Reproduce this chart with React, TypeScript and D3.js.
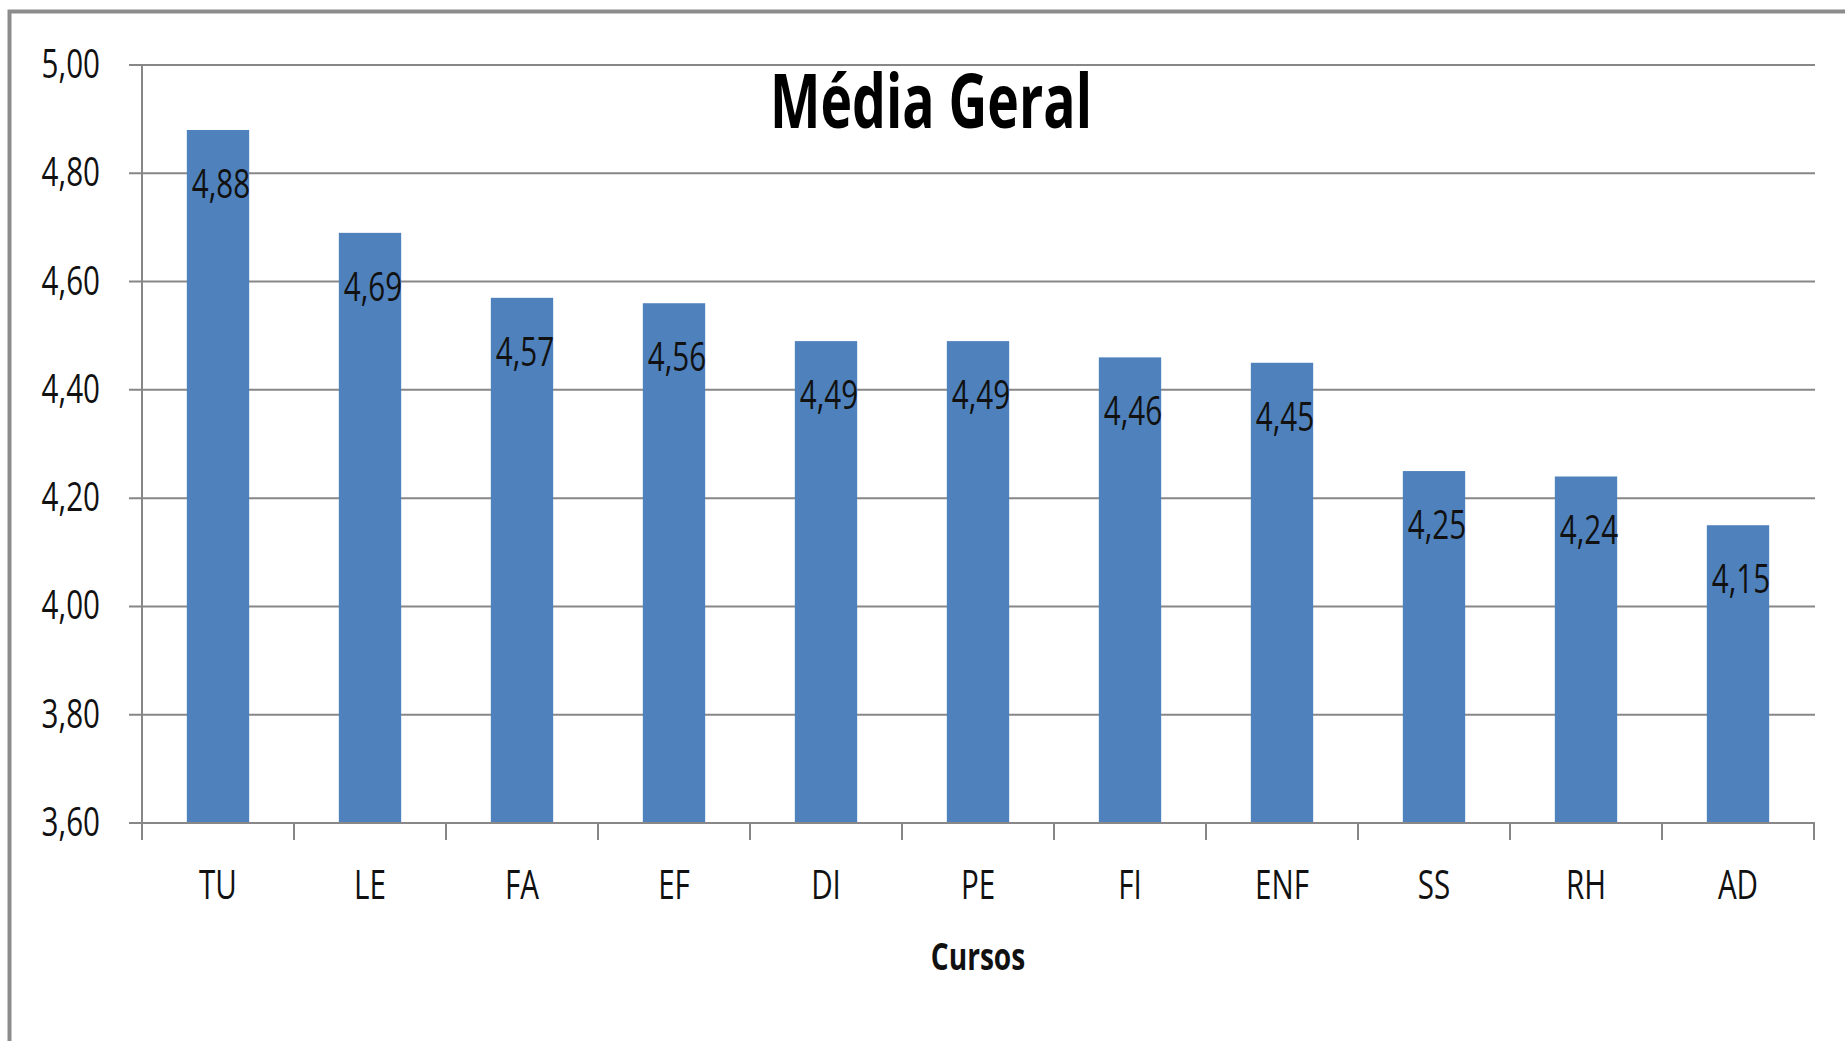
import React, { useEffect, useRef } from 'react';
import * as d3 from 'd3';

const courses = ['TU', 'LE', 'FA', 'EF', 'DI', 'PE', 'FI', 'ENF', 'SS', 'RH', 'AD'];
const averages = [4.88, 4.69, 4.57, 4.56, 4.49, 4.49, 4.46, 4.45, 4.25, 4.24, 4.15];
const yTicks = [3.6, 3.8, 4.0, 4.2, 4.4, 4.6, 4.8, 5.0];
const chartTitle = 'Média Geral';
const xTitle = 'Cursos';

const fmt = (v: number) => v.toFixed(2).replace('.', ',');

const App: React.FC = () => {
  const width = 1845;
  const height = 1041;
  const svgRef = useRef<SVGSVGElement>(null);

  useEffect(() => {
    if (!svgRef.current) return;
    const svg = d3.select(svgRef.current);
    svg.selectAll('*').remove();

    const font = '"Open Sans", "Noto Sans", sans-serif';
    const squeeze = 0.74; // narrow, Calibri-like look
    const left = 142;
    const right = 1814;
    const top = 65;
    const bottom = 823;
    const gridColor = '#878787';

    const x = d3.scaleBand()
      .domain(courses)
      .range([left, right])
      .paddingInner(0.59)
      .paddingOuter(0.295);

    const y = d3.scaleLinear()
      .domain([3.6, 5.0])
      .range([bottom, top]);

    const at = (px: number, py: number) => `translate(${px},${py}) scale(${squeeze},1)`;

    // frame
    svg.append('path')
      .attr('d', `M9.5,${height} V11.5 H${width}`)
      .attr('fill', 'none')
      .attr('stroke', '#8c8c8c')
      .attr('stroke-width', 4);

    // gridlines
    svg.append('g')
      .selectAll('line')
      .data(yTicks)
      .enter()
      .append('line')
      .attr('x1', left - 13)
      .attr('x2', right + 1)
      .attr('y1', d => y(d))
      .attr('y2', d => y(d))
      .attr('stroke', gridColor)
      .attr('stroke-width', 2);

    svg.append('g')
      .selectAll('text')
      .data(yTicks)
      .enter()
      .append('text')
      .attr('transform', d => at(100, y(d) + 13))
      .attr('text-anchor', 'end')
      .attr('font-family', font)
      .attr('font-size', 40)
      .attr('fill', '#111')
      .text(d => fmt(d));

    // bars
    svg.append('g')
      .selectAll('rect')
      .data(averages)
      .enter()
      .append('rect')
      .attr('x', (d, i) => x(courses[i]) || 0)
      .attr('y', d => y(d))
      .attr('width', x.bandwidth())
      .attr('height', d => bottom - y(d))
      .attr('fill', '#4f81bd');

    // value labels
    svg.append('g')
      .selectAll('text')
      .data(averages)
      .enter()
      .append('text')
      .attr('transform', (d, i) => at((x(courses[i]) || 0) + x.bandwidth() / 2 + 3, y(d) + 68))
      .attr('text-anchor', 'middle')
      .attr('font-family', font)
      .attr('font-size', 40)
      .attr('fill', '#111')
      .text(d => fmt(d));

    // axis lines
    svg.append('line')
      .attr('x1', left).attr('x2', left)
      .attr('y1', top).attr('y2', bottom + 17)
      .attr('stroke', gridColor).attr('stroke-width', 2);
    svg.append('line')
      .attr('x1', left - 13).attr('x2', right + 1)
      .attr('y1', bottom).attr('y2', bottom)
      .attr('stroke', gridColor).attr('stroke-width', 2);

    const step = x.step();
    const boundaries = d3.range(courses.length + 1).map(i => left + i * step);
    svg.append('g')
      .selectAll('line')
      .data(boundaries)
      .enter()
      .append('line')
      .attr('x1', d => d).attr('x2', d => d)
      .attr('y1', bottom).attr('y2', bottom + 17)
      .attr('stroke', gridColor).attr('stroke-width', 2);

    svg.append('g')
      .selectAll('text')
      .data(courses)
      .enter()
      .append('text')
      .attr('transform', d => at((x(d) || 0) + x.bandwidth() / 2, 899))
      .attr('text-anchor', 'middle')
      .attr('font-family', font)
      .attr('font-size', 40)
      .attr('fill', '#111')
      .text(d => d);

    svg.append('text')
      .attr('transform', at((left + right) / 2, 970))
      .attr('text-anchor', 'middle')
      .attr('font-family', font)
      .attr('font-weight', 'bold')
      .attr('font-size', 38)
      .attr('fill', '#111')
      .text(xTitle);

    svg.append('text')
      .attr('x', 931)
      .attr('y', 128)
      .attr('text-anchor', 'middle')
      .attr('font-family', font)
      .attr('font-weight', 'bold')
      .attr('font-size', 76)
      .attr('textLength', 322)
      .attr('lengthAdjust', 'spacingAndGlyphs')
      .attr('fill', '#000')
      .text(chartTitle);
  }, []);

  return (
    <svg
      ref={svgRef}
      width={width}
      height={height}
      style={{ position: 'absolute', left: 0, top: 0, background: '#fff' }}
    ></svg>
  );
};

export default App;
